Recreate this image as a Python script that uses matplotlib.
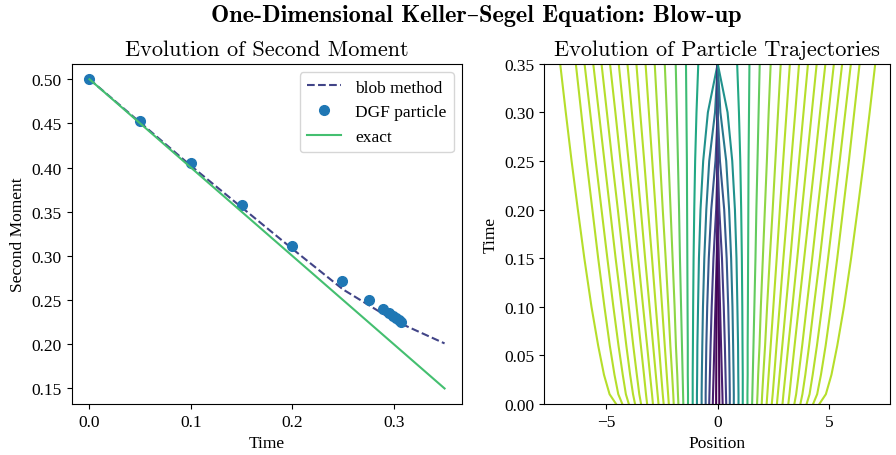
import matplotlib
matplotlib.use("Agg")
import matplotlib.pyplot as plt
import numpy as np

# second moment data
moment_times = [0.0, 0.05, 0.10, 0.15, 0.20, 0.25, 0.30, 0.35]
blob_moment = [0.500, 0.451, 0.402, 0.355, 0.308, 0.262, 0.227, 0.201]
dgf_times = [0.0, 0.05, 0.10, 0.15, 0.20, 0.2485, 0.276, 0.289, 0.295, 0.299, 0.302, 0.305, 0.307]
dgf_moment = [0.500, 0.4523, 0.4055, 0.3581, 0.3115, 0.2717, 0.2506, 0.2400, 0.2356, 0.2322, 0.2300, 0.2275, 0.2254]
exact_times = [0.0, 0.35]
exact_moment = [0.50, 0.15]

# particle trajectories (right half, inner -> outer); left half is the mirror image
traj_times = [0.0, 0.01, 0.03, 0.06, 0.10, 0.15, 0.20, 0.25, 0.30, 0.35]
traj_right = [
    [0.07, 0.07, 0.065, 0.06, 0.045, 0.02, 0.0, 0.0, 0.0, 0.0],
    [0.22, 0.21, 0.185, 0.15, 0.104, 0.046, 0.0, 0.0, 0.0, 0.0],
    [0.38, 0.37, 0.35, 0.32, 0.27, 0.19, 0.07, 0.0, 0.0, 0.0],
    [0.54, 0.54, 0.53, 0.51, 0.47, 0.40, 0.29, 0.10, 0.0, 0.0],
    [0.72, 0.72, 0.71, 0.69, 0.66, 0.60, 0.51, 0.38, 0.12, 0.0],
    [0.93, 0.93, 0.92, 0.91, 0.88, 0.84, 0.77, 0.65, 0.44, 0.0],
    [1.12, 1.12, 1.12, 1.11, 1.10, 1.08, 1.05, 1.01, 0.95, 0.87],
    [1.33, 1.33, 1.34, 1.34, 1.35, 1.36, 1.37, 1.38, 1.40, 1.42],
    [1.54, 1.55, 1.57, 1.60, 1.64, 1.69, 1.73, 1.78, 1.83, 1.88],
    [1.76, 1.78, 1.81, 1.87, 1.93, 2.02, 2.11, 2.20, 2.28, 2.37],
    [1.97, 1.99, 2.04, 2.12, 2.21, 2.33, 2.46, 2.58, 2.70, 2.82],
    [2.19, 2.22, 2.28, 2.37, 2.49, 2.64, 2.78, 2.93, 3.08, 3.23],
    [2.42, 2.46, 2.53, 2.63, 2.77, 2.94, 3.12, 3.29, 3.47, 3.64],
    [2.65, 2.69, 2.77, 2.89, 3.05, 3.25, 3.44, 3.64, 3.84, 4.04],
    [2.90, 2.94, 3.03, 3.16, 3.34, 3.56, 3.77, 3.99, 4.21, 4.43],
    [3.16, 3.21, 3.30, 3.44, 3.63, 3.87, 4.11, 4.35, 4.58, 4.82],
    [3.43, 3.51, 3.62, 3.78, 3.98, 4.23, 4.47, 4.72, 4.96, 5.20],
    [3.70, 3.79, 3.92, 4.09, 4.30, 4.57, 4.82, 5.07, 5.32, 5.57],
    [3.98, 4.11, 4.25, 4.44, 4.67, 4.94, 5.20, 5.46, 5.71, 5.96],
    [4.27, 4.45, 4.62, 4.83, 5.07, 5.35, 5.61, 5.87, 6.11, 6.35],
    [4.55, 4.84, 5.09, 5.35, 5.65, 5.97, 6.26, 6.54, 6.80, 7.05],
]
traj_shade = [0.0, 0.08, 0.18, 0.28, 0.40, 0.50, 0.60, 0.68, 0.76, 0.83, 0.87,
              0.89, 0.89, 0.89, 0.89, 0.89, 0.89, 0.89, 0.89, 0.89, 0.89]

plt.rcParams['font.family'] = 'serif'
plt.rcParams['font.serif'] = ['Liberation Serif', 'DejaVu Serif']
plt.rcParams['font.size'] = 12.5
plt.rcParams['axes.unicode_minus'] = True

fig = plt.figure(figsize=(8.96, 4.56), dpi=100)
ax1 = fig.add_axes([0.080, 0.112, 0.436, 0.746])
ax2 = fig.add_axes([0.6075, 0.112, 0.3858, 0.746])

# left: second moment
ax1.plot(moment_times, blob_moment, '--', color='#414487', lw=1.5, label='blob method')
ax1.plot(dgf_times, dgf_moment, 'o', color='#1f77b4', ms=7, label='DGF particle')
ax1.plot(exact_times, exact_moment, '-', color='#44bf70', lw=1.5, label='exact')
ax1.set_xlabel('Time')
ax1.set_ylabel('Second Moment')
ax1.set_xticks([0.0, 0.1, 0.2, 0.3])
ax1.set_yticks([0.15, 0.20, 0.25, 0.30, 0.35, 0.40, 0.45, 0.50])
ax1.legend(loc='upper right')
ax1.set_title('Evolution of Second Moment', fontfamily=['cmr10', 'DejaVu Serif'], fontsize=16, pad=6)

# right: trajectories
cmap = plt.get_cmap('viridis')
traj = np.array(traj_right)
for row, c in zip(traj[::-1], traj_shade[::-1]):
    ax2.plot(-row, traj_times, color=cmap(c), lw=1.5)
for row, c in zip(traj, traj_shade):
    ax2.plot(row, traj_times, color=cmap(c), lw=1.5)
ax2.set_xlim(-7.76, 7.71)
ax2.set_ylim(0, 0.35)
ax2.set_xticks([-5, 0, 5])
ax2.set_yticks(np.arange(0, 0.36, 0.05))
ax2.set_xlabel('Position')
ax2.set_ylabel('Time')
ax2.set_title('Evolution of Particle Trajectories', fontfamily=['cmr10', 'DejaVu Serif'], fontsize=16, pad=6)

fig.suptitle('One-Dimensional Keller\u2013Segel Equation: Blow-up',
             fontfamily=['cmb10', 'DejaVu Serif'], fontsize=17.5, x=0.531, y=0.99)

fig.savefig('out.png', dpi=100)
